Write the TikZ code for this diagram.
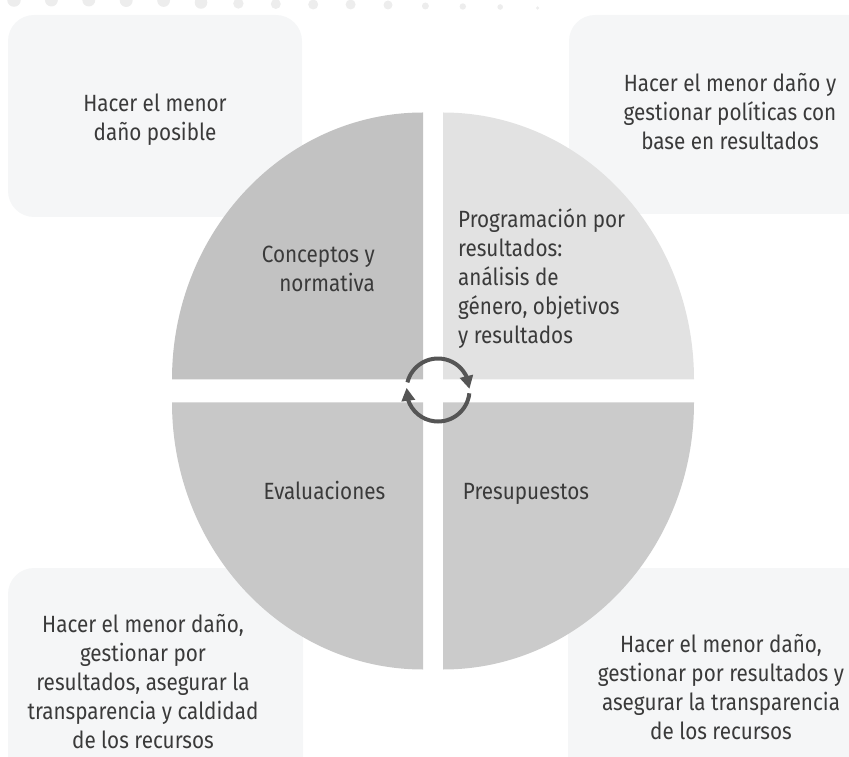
\documentclass[tikz,border=0pt]{standalone}
\usepackage{fontspec}
\setmainfont[FakeStretch=0.88]{Fira Sans}
\usetikzlibrary{arrows.meta,bending}
\definecolor{boxc}{HTML}{F5F6F7}
\definecolor{dotc}{HTML}{EDEDED}
\definecolor{qtl}{HTML}{C2C2C2}
\definecolor{qtr}{HTML}{E2E2E2}
\definecolor{qbl}{HTML}{C8C8C8}
\definecolor{qbr}{HTML}{CBCBCB}
\definecolor{txtc}{HTML}{3A3A3A}
\definecolor{arrc}{HTML}{555555}
\begin{document}
\begin{tikzpicture}[x=1pt,y=1pt,
  panel/.style={fill=boxc, rounded corners=26pt},
  lbl/.style={text=txtc, font=\fontsize{23.5}{29}\selectfont, inner sep=0pt},
  dotmark/.style={fill=dotc},
  cyc/.style={draw=arrc, line width=4pt, -{Triangle[length=13pt,width=13pt,flex]}}
]
\useasboundingbox (0,0) rectangle (849,756);
\clip (0,0) rectangle (849,756);
% decorative dots
\foreach \i/\r/\cy in {0/6.8/0, 1/6.5/0, 2/6.5/0, 3/6.5/0.5, 4/6.4/0.5, 5/6.3/2.5, 6/5.2/3.5, 7/5/4, 8/5/4.5, 9/5/4.5, 10/4.5/5, 11/3.5/6, 12/3.2/6.5, 13/2.8/7, 14/1.8/8}
  \fill[dotmark] ({14+37.4*\i},{756-\cy}) circle[radius=\r];
% panels
\fill[panel] (8,539) rectangle (302,741);
\fill[panel] (569,542) rectangle (880,741);
\fill[panel] (8,-34) rectangle (303,188);
\fill[panel] (568,-34) rectangle (880,188);
% quadrants
\fill[qtl] (423,376.5) -- (172,376.5) arc[start angle=180, end angle=90, x radius=251, y radius=267] -- cycle;
\fill[qtr] (443,376.5) -- (694,376.5) arc[start angle=0, end angle=90, x radius=251, y radius=267] -- cycle;
\fill[qbl] (423,353.5) -- (172,353.5) arc[start angle=180, end angle=270, x radius=251, y radius=267] -- cycle;
\fill[qbr] (443,353.5) -- (694,353.5) arc[start angle=0, end angle=-90, x radius=251, y radius=267] -- cycle;
% panel texts
\node[lbl, align=center, anchor=north] (tl) at (155,665.3) {\strut Hacer el menor\\daño posible};
\node[lbl, align=center, anchor=north] (tr) at (730,685.3) {\strut Hacer el menor daño y\\gestionar políticas con\\base en resultados};
\node[lbl, align=center, anchor=north] (bl) at (143,144.3) {\strut Hacer el menor daño,\\gestionar por\\resultados, asegurar la\\transparencia y caldidad\\de los recursos};
\node[lbl, align=center, anchor=north] (br) at (721,124.3) {\strut Hacer el menor daño,\\gestionar por resultados y\\asegurar la transparencia\\de los recursos};
% quadrant texts
\node[lbl, align=right, anchor=north east] (q1) at (375,514.3) {\strut Conceptos y\\normativa};
\node[lbl, align=left, anchor=north west] (q2) at (458,549.3) {\strut Programación por\\resultados:\\análisis de\\género, objetivos\\y resultados};
\node[lbl, anchor=base] (q3) at (324.5,256) {Evaluaciones};
\node[lbl, anchor=base] (q4) at (526,256) {Presupuestos};
% cycle arrows
\coordinate (cc) at (438,366);
\draw[cyc] ([shift={(166:31.5)}]cc) arc[start angle=166, end angle=2, radius=31.5];
\draw[cyc] ([shift={(-6:31.5)}]cc) arc[start angle=-6, end angle=-184, radius=31.5];
\end{tikzpicture}
\end{document}
